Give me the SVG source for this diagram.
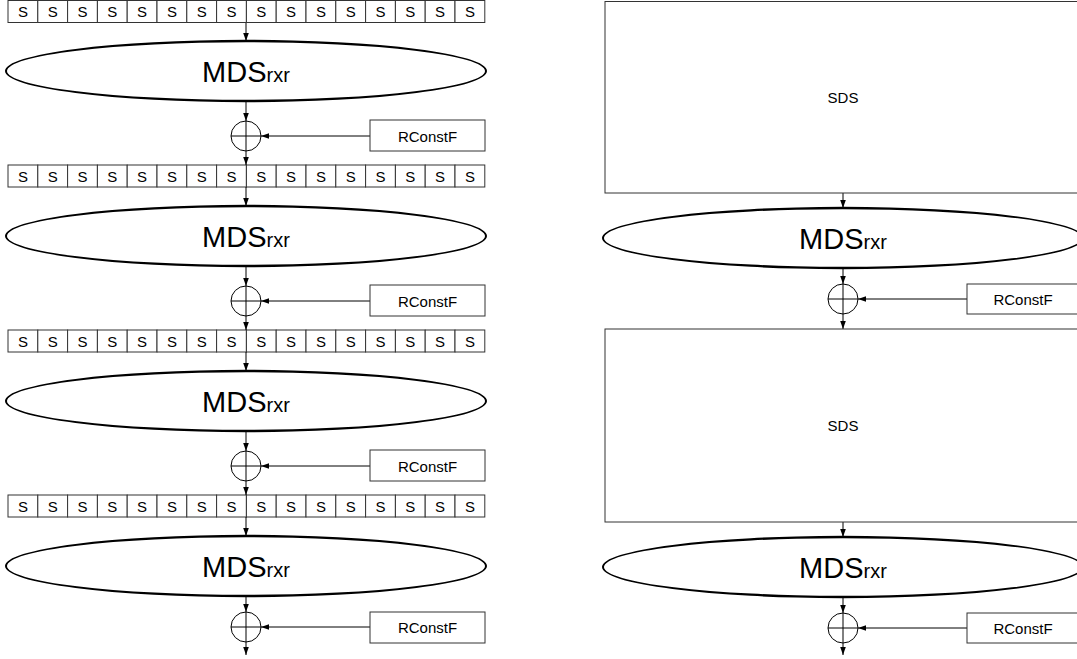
<svg xmlns="http://www.w3.org/2000/svg" width="1077" height="659" viewBox="0 0 1077 659">
<defs>
<marker id="ah" markerUnits="userSpaceOnUse" markerWidth="8" markerHeight="8" viewBox="0 0 8 8" refX="8" refY="4" orient="auto"><path d="M0,1.2 L8,4 L0,6.8 Z" fill="#000"/></marker>
</defs>
<style>
.cell{fill:#fff;stroke:#333;stroke-width:1}
.box{fill:#fff;stroke:#333;stroke-width:1}
.st{font-family:"Liberation Sans",Arial,sans-serif;font-size:15px;fill:#000;text-anchor:middle;dominant-baseline:central}
.mds{font-family:"Liberation Sans",Arial,sans-serif;font-size:29px;fill:#000;text-anchor:middle}
.sub{font-size:20px}
.ell{fill:#000;fill-rule:evenodd}
.ellbg{fill:#fff}
.ln{stroke:#000;stroke-width:1;fill:none}
.arr{stroke:#000;stroke-width:1;fill:none;marker-end:url(#ah)}
.xor{fill:#fff;stroke:#000;stroke-width:1}
</style>
<rect width="1077" height="659" fill="#fff"/>

<g id="sbox1" transform="translate(8,0.5)">
<rect class="cell" x="0" y="0" width="29.8" height="22"/><rect class="cell" x="29.8" y="0" width="29.8" height="22"/><rect class="cell" x="59.6" y="0" width="29.8" height="22"/><rect class="cell" x="89.4" y="0" width="29.8" height="22"/><rect class="cell" x="119.2" y="0" width="29.8" height="22"/><rect class="cell" x="149" y="0" width="29.8" height="22"/><rect class="cell" x="178.8" y="0" width="29.8" height="22"/><rect class="cell" x="208.6" y="0" width="29.8" height="22"/><rect class="cell" x="238.4" y="0" width="29.8" height="22"/><rect class="cell" x="268.2" y="0" width="29.8" height="22"/><rect class="cell" x="298" y="0" width="29.8" height="22"/><rect class="cell" x="327.8" y="0" width="29.8" height="22"/><rect class="cell" x="357.6" y="0" width="29.8" height="22"/><rect class="cell" x="387.4" y="0" width="29.8" height="22"/><rect class="cell" x="417.2" y="0" width="29.8" height="22"/><rect class="cell" x="447" y="0" width="29.8" height="22"/>
<text class="st" x="14.9" y="11">S</text><text class="st" x="44.7" y="11">S</text><text class="st" x="74.5" y="11">S</text><text class="st" x="104.3" y="11">S</text><text class="st" x="134.1" y="11">S</text><text class="st" x="163.9" y="11">S</text><text class="st" x="193.7" y="11">S</text><text class="st" x="223.5" y="11">S</text><text class="st" x="253.3" y="11">S</text><text class="st" x="283.1" y="11">S</text><text class="st" x="312.9" y="11">S</text><text class="st" x="342.7" y="11">S</text><text class="st" x="372.5" y="11">S</text><text class="st" x="402.3" y="11">S</text><text class="st" x="432.1" y="11">S</text><text class="st" x="461.9" y="11">S</text>
</g>
<g id="sbox2" transform="translate(8,165)">
<rect class="cell" x="0" y="0" width="29.8" height="22"/><rect class="cell" x="29.8" y="0" width="29.8" height="22"/><rect class="cell" x="59.6" y="0" width="29.8" height="22"/><rect class="cell" x="89.4" y="0" width="29.8" height="22"/><rect class="cell" x="119.2" y="0" width="29.8" height="22"/><rect class="cell" x="149" y="0" width="29.8" height="22"/><rect class="cell" x="178.8" y="0" width="29.8" height="22"/><rect class="cell" x="208.6" y="0" width="29.8" height="22"/><rect class="cell" x="238.4" y="0" width="29.8" height="22"/><rect class="cell" x="268.2" y="0" width="29.8" height="22"/><rect class="cell" x="298" y="0" width="29.8" height="22"/><rect class="cell" x="327.8" y="0" width="29.8" height="22"/><rect class="cell" x="357.6" y="0" width="29.8" height="22"/><rect class="cell" x="387.4" y="0" width="29.8" height="22"/><rect class="cell" x="417.2" y="0" width="29.8" height="22"/><rect class="cell" x="447" y="0" width="29.8" height="22"/>
<text class="st" x="14.9" y="11">S</text><text class="st" x="44.7" y="11">S</text><text class="st" x="74.5" y="11">S</text><text class="st" x="104.3" y="11">S</text><text class="st" x="134.1" y="11">S</text><text class="st" x="163.9" y="11">S</text><text class="st" x="193.7" y="11">S</text><text class="st" x="223.5" y="11">S</text><text class="st" x="253.3" y="11">S</text><text class="st" x="283.1" y="11">S</text><text class="st" x="312.9" y="11">S</text><text class="st" x="342.7" y="11">S</text><text class="st" x="372.5" y="11">S</text><text class="st" x="402.3" y="11">S</text><text class="st" x="432.1" y="11">S</text><text class="st" x="461.9" y="11">S</text>
</g>
<g id="sbox3" transform="translate(8,330)">
<rect class="cell" x="0" y="0" width="29.8" height="22"/><rect class="cell" x="29.8" y="0" width="29.8" height="22"/><rect class="cell" x="59.6" y="0" width="29.8" height="22"/><rect class="cell" x="89.4" y="0" width="29.8" height="22"/><rect class="cell" x="119.2" y="0" width="29.8" height="22"/><rect class="cell" x="149" y="0" width="29.8" height="22"/><rect class="cell" x="178.8" y="0" width="29.8" height="22"/><rect class="cell" x="208.6" y="0" width="29.8" height="22"/><rect class="cell" x="238.4" y="0" width="29.8" height="22"/><rect class="cell" x="268.2" y="0" width="29.8" height="22"/><rect class="cell" x="298" y="0" width="29.8" height="22"/><rect class="cell" x="327.8" y="0" width="29.8" height="22"/><rect class="cell" x="357.6" y="0" width="29.8" height="22"/><rect class="cell" x="387.4" y="0" width="29.8" height="22"/><rect class="cell" x="417.2" y="0" width="29.8" height="22"/><rect class="cell" x="447" y="0" width="29.8" height="22"/>
<text class="st" x="14.9" y="11">S</text><text class="st" x="44.7" y="11">S</text><text class="st" x="74.5" y="11">S</text><text class="st" x="104.3" y="11">S</text><text class="st" x="134.1" y="11">S</text><text class="st" x="163.9" y="11">S</text><text class="st" x="193.7" y="11">S</text><text class="st" x="223.5" y="11">S</text><text class="st" x="253.3" y="11">S</text><text class="st" x="283.1" y="11">S</text><text class="st" x="312.9" y="11">S</text><text class="st" x="342.7" y="11">S</text><text class="st" x="372.5" y="11">S</text><text class="st" x="402.3" y="11">S</text><text class="st" x="432.1" y="11">S</text><text class="st" x="461.9" y="11">S</text>
</g>
<g id="sbox4" transform="translate(8,495)">
<rect class="cell" x="0" y="0" width="29.8" height="22"/><rect class="cell" x="29.8" y="0" width="29.8" height="22"/><rect class="cell" x="59.6" y="0" width="29.8" height="22"/><rect class="cell" x="89.4" y="0" width="29.8" height="22"/><rect class="cell" x="119.2" y="0" width="29.8" height="22"/><rect class="cell" x="149" y="0" width="29.8" height="22"/><rect class="cell" x="178.8" y="0" width="29.8" height="22"/><rect class="cell" x="208.6" y="0" width="29.8" height="22"/><rect class="cell" x="238.4" y="0" width="29.8" height="22"/><rect class="cell" x="268.2" y="0" width="29.8" height="22"/><rect class="cell" x="298" y="0" width="29.8" height="22"/><rect class="cell" x="327.8" y="0" width="29.8" height="22"/><rect class="cell" x="357.6" y="0" width="29.8" height="22"/><rect class="cell" x="387.4" y="0" width="29.8" height="22"/><rect class="cell" x="417.2" y="0" width="29.8" height="22"/><rect class="cell" x="447" y="0" width="29.8" height="22"/>
<text class="st" x="14.9" y="11">S</text><text class="st" x="44.7" y="11">S</text><text class="st" x="74.5" y="11">S</text><text class="st" x="104.3" y="11">S</text><text class="st" x="134.1" y="11">S</text><text class="st" x="163.9" y="11">S</text><text class="st" x="193.7" y="11">S</text><text class="st" x="223.5" y="11">S</text><text class="st" x="253.3" y="11">S</text><text class="st" x="283.1" y="11">S</text><text class="st" x="312.9" y="11">S</text><text class="st" x="342.7" y="11">S</text><text class="st" x="372.5" y="11">S</text><text class="st" x="402.3" y="11">S</text><text class="st" x="432.1" y="11">S</text><text class="st" x="461.9" y="11">S</text>
</g>

<g id="connectors">
<line class="arr" x1="246" y1="23" x2="246" y2="41"/>
<line class="arr" x1="246" y1="101" x2="246" y2="121"/>
<line class="arr" x1="246" y1="151" x2="246" y2="165"/>
<line class="arr" x1="370" y1="136" x2="261" y2="136"/>
<line class="arr" x1="246" y1="187" x2="246" y2="206"/>
<line class="arr" x1="246" y1="266" x2="246" y2="286"/>
<line class="arr" x1="246" y1="316" x2="246" y2="330"/>
<line class="arr" x1="370" y1="301" x2="261" y2="301"/>
<line class="arr" x1="246" y1="352" x2="246" y2="371"/>
<line class="arr" x1="246" y1="431" x2="246" y2="451"/>
<line class="arr" x1="246" y1="481" x2="246" y2="495"/>
<line class="arr" x1="370" y1="466" x2="261" y2="466"/>
<line class="arr" x1="246" y1="517" x2="246" y2="536"/>
<line class="arr" x1="246" y1="596" x2="246" y2="612"/>
<line class="arr" x1="246" y1="642" x2="246" y2="655"/>
<line class="arr" x1="370" y1="627" x2="261" y2="627"/>
<line class="arr" x1="843" y1="193" x2="843" y2="208"/>
<line class="arr" x1="843" y1="268" x2="843" y2="284"/>
<line class="arr" x1="843" y1="314" x2="843" y2="329"/>
<line class="arr" x1="967" y1="299" x2="858" y2="299"/>
<line class="arr" x1="843" y1="522" x2="843" y2="537"/>
<line class="arr" x1="843" y1="597" x2="843" y2="613"/>
<line class="arr" x1="843" y1="643" x2="843" y2="655"/>
<line class="arr" x1="967" y1="628" x2="858" y2="628"/>
</g>

<g id="mds1"><ellipse class="ellbg" cx="246" cy="71" rx="240" ry="30"/><path class="ell" d="M5,71 a241,31.2 0 1,0 482,0 a241,31.2 0 1,0 -482,0 Z M7,71 a239,28.8 0 1,0 478,0 a239,28.8 0 1,0 -478,0 Z"/><text class="mds" x="246" y="82">MDS<tspan class="sub">rxr</tspan></text></g>
<g id="mds2"><ellipse class="ellbg" cx="246" cy="236" rx="240" ry="30"/><path class="ell" d="M5,236 a241,31.2 0 1,0 482,0 a241,31.2 0 1,0 -482,0 Z M7,236 a239,28.8 0 1,0 478,0 a239,28.8 0 1,0 -478,0 Z"/><text class="mds" x="246" y="247">MDS<tspan class="sub">rxr</tspan></text></g>
<g id="mds3"><ellipse class="ellbg" cx="246" cy="401" rx="240" ry="30"/><path class="ell" d="M5,401 a241,31.2 0 1,0 482,0 a241,31.2 0 1,0 -482,0 Z M7,401 a239,28.8 0 1,0 478,0 a239,28.8 0 1,0 -478,0 Z"/><text class="mds" x="246" y="412">MDS<tspan class="sub">rxr</tspan></text></g>
<g id="mds4"><ellipse class="ellbg" cx="246" cy="566" rx="240" ry="30"/><path class="ell" d="M5,566 a241,31.2 0 1,0 482,0 a241,31.2 0 1,0 -482,0 Z M7,566 a239,28.8 0 1,0 478,0 a239,28.8 0 1,0 -478,0 Z"/><text class="mds" x="246" y="577">MDS<tspan class="sub">rxr</tspan></text></g>

<g id="xor1"><circle class="xor" cx="246" cy="136" r="15"/><path class="ln" d="M231,136 H261 M246,121 V151"/></g>
<g id="xor2"><circle class="xor" cx="246" cy="301" r="15"/><path class="ln" d="M231,301 H261 M246,286 V316"/></g>
<g id="xor3"><circle class="xor" cx="246" cy="466" r="15"/><path class="ln" d="M231,466 H261 M246,451 V481"/></g>
<g id="xor4"><circle class="xor" cx="246" cy="627" r="15"/><path class="ln" d="M231,627 H261 M246,612 V642"/></g>

<g id="rc1"><rect class="box" x="370" y="120" width="115" height="31"/><text class="st" x="427.5" y="136">RConstF</text></g>
<g id="rc2"><rect class="box" x="370" y="285" width="115" height="31"/><text class="st" x="427.5" y="301">RConstF</text></g>
<g id="rc3"><rect class="box" x="370" y="450" width="115" height="31"/><text class="st" x="427.5" y="466">RConstF</text></g>
<g id="rc4"><rect class="box" x="370" y="612" width="115" height="31"/><text class="st" x="427.5" y="627">RConstF</text></g>

<g id="sds1"><rect class="box" x="605" y="1.5" width="480" height="191.5"/><text class="st" x="843" y="97">SDS</text></g>
<g id="mds5"><ellipse class="ellbg" cx="843" cy="238" rx="240" ry="30"/><path class="ell" d="M602,238 a241,31.2 0 1,0 482,0 a241,31.2 0 1,0 -482,0 Z M604,238 a239,28.8 0 1,0 478,0 a239,28.8 0 1,0 -478,0 Z"/><text class="mds" x="843" y="249">MDS<tspan class="sub">rxr</tspan></text></g>
<g id="xor5"><circle class="xor" cx="843" cy="299" r="15"/><path class="ln" d="M828,299 H858 M843,284 V314"/></g>
<g id="rc5"><rect class="box" x="967" y="284" width="115" height="30"/><text class="st" x="1023" y="299">RConstF</text></g>
<g id="sds2"><rect class="box" x="605" y="329" width="480" height="193"/><text class="st" x="843" y="425">SDS</text></g>
<g id="mds6"><ellipse class="ellbg" cx="843" cy="567" rx="240" ry="30"/><path class="ell" d="M602,567 a241,31.2 0 1,0 482,0 a241,31.2 0 1,0 -482,0 Z M604,567 a239,28.8 0 1,0 478,0 a239,28.8 0 1,0 -478,0 Z"/><text class="mds" x="843" y="578">MDS<tspan class="sub">rxr</tspan></text></g>
<g id="xor6"><circle class="xor" cx="843" cy="628" r="15"/><path class="ln" d="M828,628 H858 M843,613 V643"/></g>
<g id="rc6"><rect class="box" x="967" y="613" width="115" height="30"/><text class="st" x="1023" y="628">RConstF</text></g>
</svg>
